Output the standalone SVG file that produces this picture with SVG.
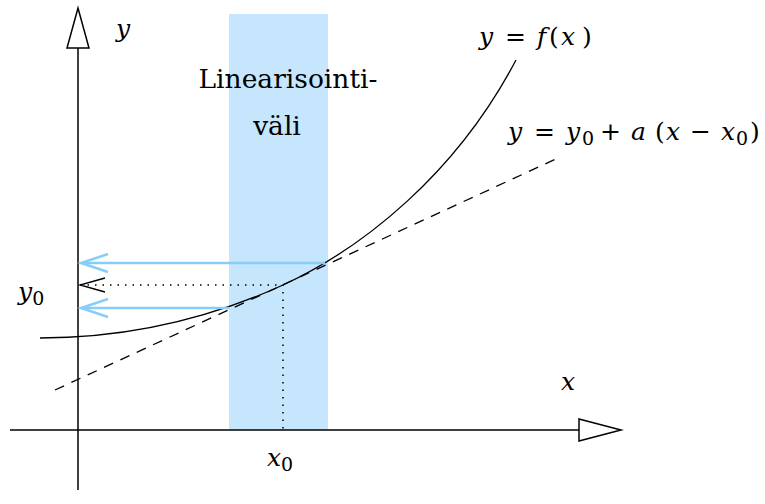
<svg xmlns="http://www.w3.org/2000/svg" width="765" height="504" viewBox="0 0 765 504">
<style>
.ax{stroke:#000;stroke-width:1.5;fill:none}
.head{stroke:#000;stroke-width:1.5;fill:#fff;stroke-linejoin:miter}
.i{font-style:italic}
.s{font-size:19px}
.blue{stroke:#88cdf8;stroke-width:2.5;fill:none}
</style>
<rect id="band" x="229" y="14" width="99" height="416" fill="#c5e6fc"/>
<g id="connectors">
  <line class="ax" x1="78" y1="490" x2="78" y2="48"/>
  <polygon class="head" points="67,48 89,48 78,8"/>
  <line class="ax" x1="10" y1="430" x2="579" y2="430"/>
  <polygon class="head" points="579,419 579,441 621,430"/>
  <path d="M40,338 C121,338 202,322 283,285 C363,248 456,174 516,60" stroke="#000" stroke-width="1.3" fill="none"/>
  <line x1="55" y1="390" x2="558" y2="158" stroke="#000" stroke-width="1.3" stroke-dasharray="10,8"/>
  <path d="M80,285 H283 V430" stroke="#000" stroke-width="1.5" stroke-dasharray="1.5,6" fill="none"/>
  <polyline points="105,278 80,285 105,292" stroke="#000" stroke-width="1.3" fill="none"/>
  <line class="blue" x1="325" y1="263" x2="81" y2="263"/>
  <polyline class="blue" points="108,254 81,263 108,272"/>
  <line class="blue" x1="229" y1="308" x2="81" y2="308"/>
  <polyline class="blue" points="108,299 81,308 108,317"/>
</g>
<g font-family="DejaVu Serif, serif" font-size="25" fill="#000">
<g id="label-y"><text class="i" x="116" y="37">y</text></g>
<g id="label-x"><text class="i" x="561" y="390">x</text></g>
<g id="label-y0"><text x="18" y="300"><tspan class="i">y</tspan><tspan class="s" dy="5">0</tspan></text></g>
<g id="label-x0"><text x="267" y="466"><tspan class="i">x</tspan><tspan class="s" dy="5">0</tspan></text></g>
<g id="label-f"><text y="45"><tspan class="i" x="479">y</tspan><tspan x="505">=</tspan><tspan class="i" x="537">f</tspan><tspan x="549">(</tspan><tspan class="i" x="561">x</tspan><tspan x="582">)</tspan></text></g>
<g id="label-line"><text y="140"><tspan class="i" x="508">y</tspan><tspan x="534">=</tspan><tspan class="i" x="566">y</tspan><tspan class="s" x="582" dy="5">0</tspan><tspan x="600" dy="-5">+</tspan><tspan class="i" x="631">a</tspan><tspan x="655">(</tspan><tspan class="i" x="666">x</tspan><tspan x="690">−</tspan><tspan class="i" x="721">x</tspan><tspan class="s" x="736" dy="5">0</tspan><tspan x="750" dy="-5">)</tspan></text></g>
<g id="label-interval">
  <text x="288" y="88" text-anchor="middle" font-size="26.5">Linearisointi-</text>
  <text x="277" y="135" text-anchor="middle" font-size="26.5">väli</text>
</g>
</g>
</svg>
